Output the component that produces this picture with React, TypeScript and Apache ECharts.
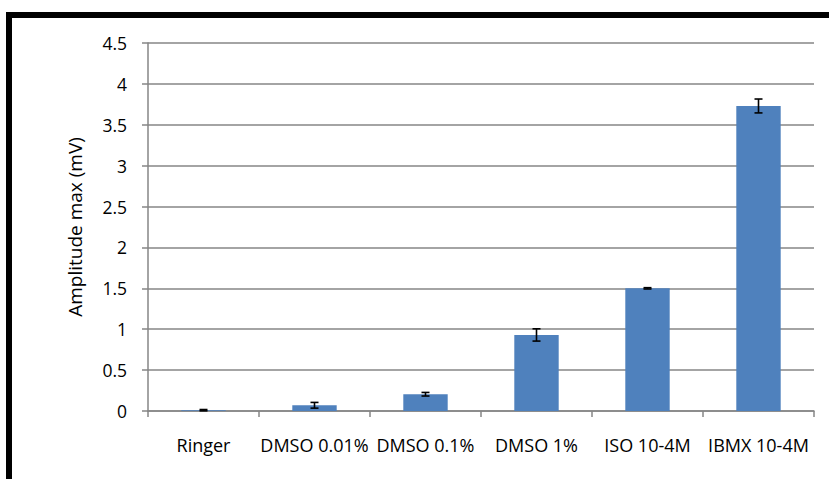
import React, { useEffect, useRef } from "react";
import * as echarts from "echarts";

const categories = ["Ringer", "DMSO 0.01%", "DMSO 0.1%", "DMSO 1%", "ISO 10-4M", "IBMX 10-4M"];
const values = [0.01, 0.07, 0.205, 0.93, 1.5, 3.73];
const errors = [0.008, 0.035, 0.022, 0.075, 0.008, 0.085];
const yAxisName = "Amplitude max (mV)";

const FONT = "'Open Sans', sans-serif";

export default function App() {
  const ref = useRef<HTMLDivElement>(null);
  useEffect(() => {
    if (!ref.current) return;
    const chart = echarts.init(ref.current, undefined, { renderer: "svg" });
    const errData = categories.map((c, i) => [i, values[i] - errors[i], values[i] + errors[i]]);
    chart.setOption({
      animation: false,
      backgroundColor: "#ffffff",
      textStyle: { fontFamily: FONT },
      grid: { left: 148, right: 15, top: 43, bottom: 68 },
      xAxis: {
        type: "category",
        data: categories,
        axisLine: { lineStyle: { color: "#868686", width: 1.5 } },
        axisTick: { show: true, length: 6, lineStyle: { color: "#868686", width: 1.5 }, alignWithLabel: false },
        axisLabel: { color: "#000", fontSize: 18, margin: 25, fontFamily: FONT, interval: 0 },
      },
      yAxis: {
        type: "value",
        min: 0,
        max: 4.5,
        interval: 0.5,
        name: yAxisName,
        nameLocation: "middle",
        nameGap: 64,
        nameTextStyle: { color: "#000", fontSize: 19, fontFamily: FONT },
        axisLine: { show: true, lineStyle: { color: "#868686", width: 1.5 } },
        axisTick: { show: true, length: 6, lineStyle: { color: "#868686", width: 1.5 } },
        axisLabel: { color: "#000", fontSize: 17.5, margin: 21, fontFamily: FONT },
        splitLine: { lineStyle: { color: "#868686", width: 1.5 } },
      },
      graphic: [
        { type: "rect", shape: { x: 6, y: 12, width: 900, height: 6 }, style: { fill: "#000" }, z: 100 },
        { type: "rect", shape: { x: 6, y: 12, width: 6, height: 500 }, style: { fill: "#000" }, z: 100 },
      ],
      series: [
        {
          type: "bar",
          data: values,
          barWidth: "40%",
          itemStyle: { color: "#4F81BD" },
        },
        {
          type: "custom",
          data: errData,
          z: 10,
          renderItem: (params: any, api: any) => {
            const x = api.value(0);
            const lo = api.coord([x, api.value(1)]);
            const hi = api.coord([x, api.value(2)]);
            const hw = 4;
            const style = { stroke: "#000", lineWidth: 1.6 };
            return {
              type: "group",
              children: [
                { type: "line", shape: { x1: lo[0], y1: lo[1], x2: hi[0], y2: hi[1] }, style },
                { type: "line", shape: { x1: lo[0] - hw, y1: lo[1], x2: lo[0] + hw, y2: lo[1] }, style },
                { type: "line", shape: { x1: hi[0] - hw, y1: hi[1], x2: hi[0] + hw, y2: hi[1] }, style },
              ],
            };
          },
        },
      ],
    });
    return () => chart.dispose();
  }, []);
  return (
    <div
      ref={ref}
      style={{ position: "fixed", left: 0, top: 0, width: 829, height: 479, background: "#fff" }}
    />
  );
}
